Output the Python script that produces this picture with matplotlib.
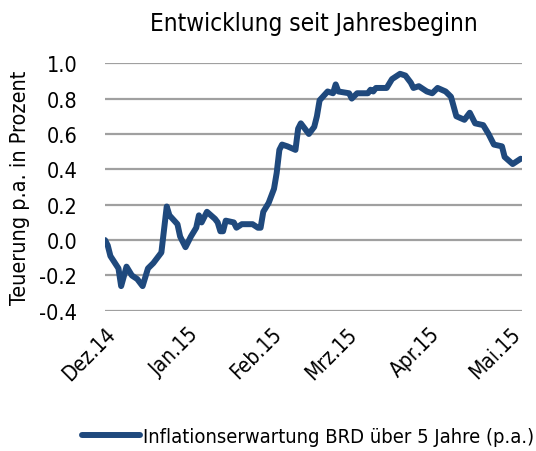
import matplotlib
matplotlib.use("Agg")
import matplotlib.pyplot as plt
import pandas as pd

plt.rcParams['font.family'] = ['DejaVu Sans']
plt.rcParams['font.stretch'] = 'condensed'

# data
dates = ["2014-12-01", "2014-12-02", "2014-12-03", "2014-12-06", "2014-12-07",
         "2014-12-09", "2014-12-11", "2014-12-13", "2014-12-15", "2014-12-17",
         "2014-12-19", "2014-12-22", "2014-12-24", "2014-12-25", "2014-12-28",
         "2014-12-29", "2014-12-31", "2015-01-02", "2015-01-04", "2015-01-05",
         "2015-01-06", "2015-01-08", "2015-01-11", "2015-01-12", "2015-01-13",
         "2015-01-14", "2015-01-15", "2015-01-18", "2015-01-19", "2015-01-21",
         "2015-01-25", "2015-01-27", "2015-01-28", "2015-01-29", "2015-01-31",
         "2015-02-02", "2015-02-03", "2015-02-04", "2015-02-05", "2015-02-07",
         "2015-02-10", "2015-02-11", "2015-02-12", "2015-02-15", "2015-02-17",
         "2015-02-18", "2015-02-19", "2015-02-22", "2015-02-24", "2015-02-25",
         "2015-02-26", "2015-03-02", "2015-03-03", "2015-03-05", "2015-03-09",
         "2015-03-10", "2015-03-11", "2015-03-12", "2015-03-16", "2015-03-18",
         "2015-03-21", "2015-03-23", "2015-03-25", "2015-03-26", "2015-03-28",
         "2015-03-31", "2015-04-02", "2015-04-04", "2015-04-07", "2015-04-09",
         "2015-04-11", "2015-04-14", "2015-04-16", "2015-04-18", "2015-04-21",
         "2015-04-23", "2015-04-25", "2015-04-28", "2015-04-29", "2015-05-02",
         "2015-05-05"]
values = [0.00, -0.03, -0.09, -0.16, -0.26,
          -0.15, -0.20, -0.22, -0.26, -0.16,
          -0.13, -0.07, 0.19, 0.14, 0.09,
          0.02, -0.04, 0.02, 0.07, 0.14,
          0.10, 0.16, 0.12, 0.10, 0.05,
          0.05, 0.11, 0.10, 0.07, 0.09,
          0.09, 0.07, 0.07, 0.16, 0.21,
          0.29, 0.38, 0.51, 0.54, 0.53,
          0.51, 0.63, 0.66, 0.60, 0.64,
          0.70, 0.79, 0.84, 0.83, 0.88,
          0.84, 0.83, 0.80, 0.83, 0.83,
          0.85, 0.84, 0.86, 0.86, 0.91,
          0.94, 0.93, 0.89, 0.86, 0.87,
          0.84, 0.83, 0.86, 0.84, 0.81,
          0.70, 0.68, 0.72, 0.66, 0.65,
          0.60, 0.54, 0.53, 0.47, 0.43,
          0.46]
tick_dates = ["2014-12-01", "2015-01-01", "2015-02-01", "2015-03-01", "2015-04-01", "2015-05-01"]
tick_labels = ["Dez.14", "Jan.15", "Feb.15", "Mrz.15", "Apr.15", "Mai.15"]
yticks = [-0.4, -0.2, 0.0, 0.2, 0.4, 0.6, 0.8, 1.0]

x = pd.to_datetime(dates)

fig = plt.figure(figsize=(5.36, 4.52), dpi=100)
ax = fig.add_axes([0.196, 0.310, 0.778, 0.548])

ax.plot(x, values, color='#1f497d', linewidth=4.3, solid_capstyle='round',
        solid_joinstyle='round', label='Inflationserwartung BRD über 5 Jahre (p.a.)')

ax.set_ylim(-0.4, 1.0)
ax.set_xlim(x[0], x[-1] + pd.Timedelta(days=0.5))
ax.set_yticks(yticks)
ax.set_yticklabels([f"{v:.1f}" for v in yticks])
ax.yaxis.grid(True, color='#a0a0a0', linewidth=1.6)
ax.set_axisbelow(True)
for s in ax.spines.values():
    s.set_visible(False)
ax.tick_params(axis='y', length=0, pad=20, labelsize=15.5)
ax.tick_params(axis='x', length=0, pad=9, labelsize=15)
ax.set_xticks(pd.to_datetime(tick_dates))
ax.set_xticklabels(tick_labels, rotation=45, ha='right', rotation_mode='anchor')

ax.set_ylabel('Teuerung p.a. in Prozent', fontsize=15.5, labelpad=7)
ax.set_title('Entwicklung seit Jahresbeginn', fontsize=17.5, pad=24)

fig.legend(loc='center', bbox_to_anchor=(0.575, 0.033), frameon=False,
           fontsize=14.5, handlelength=2.9, handletextpad=0.15,
           borderpad=0, borderaxespad=0)

fig.savefig('out.png', dpi=100)
